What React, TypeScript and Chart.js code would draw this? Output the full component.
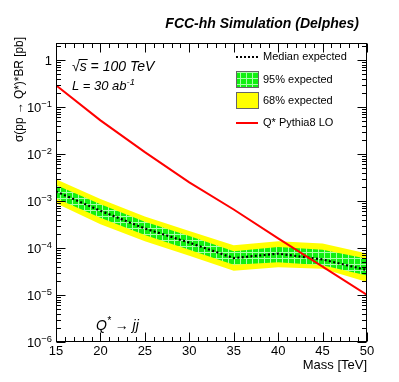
import { useEffect, useRef } from "react";
import { Chart, registerables } from "chart.js";

Chart.register(...registerables);

// Data (Mass in TeV, cross sections in pb)
const masses = [15, 20, 25, 30, 35, 40, 45, 50];
const medianExpected = [1.6e-3, 6.2e-4, 2.6e-4, 1.3e-4, 6.1e-5, 7.6e-5, 5.7e-5, 3.4e-5];
const band95High = [2.2e-3, 8.5e-4, 3.6e-4, 1.8e-4, 8.5e-5, 1.05e-4, 9.2e-5, 5.9e-5];
const band95Low = [1.15e-3, 4.4e-4, 1.9e-4, 9.2e-5, 4.4e-5, 5.0e-5, 4.3e-5, 2.6e-5];
const band68High = [2.9e-3, 1.1e-3, 4.7e-4, 2.3e-4, 1.15e-4, 1.39e-4, 1.24e-4, 7.6e-5];
const band68Low = [9.0e-4, 3.2e-4, 1.4e-4, 6.8e-5, 3.3e-5, 3.9e-5, 3.6e-5, 1.9e-5];
const pythiaLO = [0.29, 0.052, 1.1e-2, 2.5e-3, 6.6e-4, 1.6e-4, 4.0e-5, 1.0e-5];

const xTickLabels = [15, 20, 25, 30, 35, 40, 45, 50];
const yDecades = [0, -1, -2, -3, -4, -5, -6];

const FONT = "'Liberation Sans', Arial, Helvetica, sans-serif";

type Part = { t: string; sup?: boolean };

function drawRich(
  ctx: CanvasRenderingContext2D,
  parts: Part[],
  x: number,
  y: number,
  align: "left" | "right" | "center",
  size: number,
  style = ""
) {
  const supSize = size * 0.72;
  let total = 0;
  const widths = parts.map((p) => {
    ctx.font = `${style} ${p.sup ? supSize : size}px ${FONT}`;
    const w = ctx.measureText(p.t).width;
    total += w;
    return w;
  });
  let cx = align === "left" ? x : align === "right" ? x - total : x - total / 2;
  ctx.textAlign = "left";
  ctx.textBaseline = "alphabetic";
  parts.forEach((p, i) => {
    ctx.font = `${style} ${p.sup ? supSize : size}px ${FONT}`;
    ctx.fillText(p.t, cx, p.sup ? y - size * 0.42 : y);
    cx += widths[i];
  });
  return total;
}

const decorPlugin = {
  id: "decor",
  afterDraw(chart: any) {
    const ctx: CanvasRenderingContext2D = chart.ctx;
    const { left, right, top, bottom } = chart.chartArea;
    const xs = chart.scales.x;
    const ys = chart.scales.y;
    ctx.save();
    ctx.strokeStyle = "#000";
    ctx.fillStyle = "#000";
    ctx.lineWidth = 1;
    // frame
    ctx.strokeRect(Math.round(left) + 0.5, Math.round(top) + 0.5, Math.round(right - left) - 1, Math.round(bottom - top) - 1);

    const L = Math.round(left) + 0.5;
    const R = Math.round(right) - 0.5;
    const T = Math.round(top) + 0.5;
    const B = Math.round(bottom) - 0.5;
    ctx.beginPath();
    // x ticks
    for (let v = 15; v <= 50; v += 1) {
      const px = Math.round(xs.getPixelForValue(v)) + 0.5;
      const len = v % 5 === 0 ? 9 : 4.5;
      ctx.moveTo(px, B);
      ctx.lineTo(px, B - len);
      ctx.moveTo(px, T);
      ctx.lineTo(px, T + len);
    }
    // y ticks
    for (const d of yDecades) {
      for (let m = 1; m <= 9; m++) {
        const val = m * Math.pow(10, d);
        if (val > ys.max || val < ys.min) continue;
        const py = Math.round(ys.getPixelForValue(val)) + 0.5;
        const len = m === 1 ? 9 : 4.5;
        ctx.moveTo(L, py);
        ctx.lineTo(L + len, py);
        ctx.moveTo(R, py);
        ctx.lineTo(R - len, py);
      }
    }
    ctx.stroke();

    // x tick labels
    ctx.font = `13px ${FONT}`;
    ctx.textAlign = "center";
    ctx.textBaseline = "middle";
    for (const v of xTickLabels) {
      ctx.fillText(String(v), xs.getPixelForValue(v), bottom + 9);
    }
    // x title
    ctx.textAlign = "right";
    ctx.fillText("Mass [TeV]", right, bottom + 23);

    // y tick labels
    for (const d of yDecades) {
      const py = ys.getPixelForValue(Math.pow(10, d));
      if (d === 0) {
        drawRich(ctx, [{ t: "1" }], left - 4, py + 5, "right", 13);
      } else {
        drawRich(ctx, [{ t: "10" }, { t: `\u2212${-d}`, sup: true }], left - 4, py + 5, "right", 13);
      }
    }

    // y title (rotated)
    ctx.save();
    const yTitle = "\u03c3(pp \u2192 Q*)*BR [pb]";
    ctx.font = `12.5px ${FONT}`;
    const tw = ctx.measureText(yTitle).width;
    const k = Math.min(1, 105 / tw);
    ctx.translate(20, 37);
    ctx.rotate(-Math.PI / 2);
    ctx.scale(k, 1);
    ctx.textAlign = "right";
    ctx.textBaseline = "middle";
    ctx.fillText(yTitle, 0, 0);
    ctx.restore();

    // header
    ctx.font = `italic bold 14px ${FONT}`;
    ctx.textAlign = "right";
    ctx.textBaseline = "alphabetic";
    ctx.fillText("FCC-hh Simulation (Delphes)", 359, 28);

    // sqrt(s)
    ctx.textAlign = "left";
    ctx.font = `italic 14px ${FONT}`;
    const sx = 72;
    const sy = 71;
    ctx.fillText("\u221a", sx, sy);
    const rw = ctx.measureText("\u221a").width;
    ctx.fillText("s = 100 TeV", sx + rw, sy);
    const sw = ctx.measureText("s").width;
    ctx.beginPath();
    ctx.moveTo(sx + rw - 1, sy - 11.5);
    ctx.lineTo(sx + rw + sw + 1, sy - 11.5);
    ctx.stroke();

    // luminosity
    drawRich(ctx, [{ t: "L = 30 ab" }, { t: "-1", sup: true }], 72, 90, "left", 13, "italic");

    // process label
    drawRich(ctx, [{ t: "Q" }, { t: "*", sup: true }, { t: " \u2192 jj" }], 96, 330, "left", 14, "italic");

    // legend
    const lx0 = 236;
    const lx1 = 258;
    const tx = 263;
    ctx.font = `11px ${FONT}`;
    ctx.textAlign = "left";
    ctx.textBaseline = "middle";
    // median
    ctx.save();
    ctx.strokeStyle = "#000";
    ctx.lineWidth = 2;
    ctx.setLineDash([2, 2]);
    ctx.beginPath();
    ctx.moveTo(lx0, 57);
    ctx.lineTo(lx1, 57);
    ctx.stroke();
    ctx.restore();
    ctx.fillText("Median expected", tx, 57);
    // 95%
    ctx.fillStyle = chart.$greenPattern || "#00ff00";
    ctx.fillRect(lx0, 71, lx1 - lx0, 16);
    ctx.strokeStyle = "#666";
    ctx.strokeRect(lx0 + 0.5, 71.5, lx1 - lx0, 16);
    ctx.fillStyle = "#000";
    ctx.fillText("95% expected", tx, 79.5);
    // 68%
    ctx.fillStyle = "#ffff00";
    ctx.fillRect(lx0, 92, lx1 - lx0, 16);
    ctx.strokeRect(lx0 + 0.5, 92.5, lx1 - lx0, 16);
    ctx.fillStyle = "#000";
    ctx.fillText("68% expected", tx, 100.5);
    // red
    ctx.strokeStyle = "#ff0000";
    ctx.lineWidth = 2;
    ctx.beginPath();
    ctx.moveTo(lx0, 123);
    ctx.lineTo(lx1, 123);
    ctx.stroke();
    ctx.fillText("Q* Pythia8 LO", tx, 123);

    ctx.restore();
  },
};

export default function App() {
  const ref = useRef<HTMLCanvasElement>(null);

  useEffect(() => {
    document.body.style.margin = "0";
    const canvas = ref.current!;
    const pc = document.createElement("canvas");
    pc.width = 6;
    pc.height = 6;
    const p = pc.getContext("2d")!;
    p.fillStyle = "#10f010";
    p.fillRect(0, 0, 6, 6);
    p.fillStyle = "#a8ffa8";
    p.fillRect(0, 0, 6, 1);
    p.fillRect(0, 0, 1, 6);
    const greenPattern = canvas.getContext("2d")!.createPattern(pc, "repeat");

    const pts = (arr: number[]) => masses.map((m, i) => ({ x: m, y: arr[i] }));
    const clear = "rgba(0,0,0,0)";

    const chart: any = new Chart(canvas, {
      type: "line",
      data: {
        datasets: [
          { label: "Q* Pythia8 LO", data: pts(pythiaLO), borderColor: "#ff0000", borderWidth: 2, pointRadius: 0, fill: false, tension: 0 },
          { label: "Median expected", data: pts(medianExpected), borderColor: "#000", borderWidth: 2.2, borderDash: [2, 2.4], pointRadius: 0, fill: false },
          { label: "95% high", data: pts(band95High), borderColor: clear, borderWidth: 1, backgroundColor: greenPattern as any, pointRadius: 0, fill: "+1" },
          { label: "95% low", data: pts(band95Low), borderColor: clear, borderWidth: 1, pointRadius: 0, fill: false },
          { label: "68% high", data: pts(band68High), borderColor: clear, borderWidth: 1, backgroundColor: "#ffff00", pointRadius: 0, fill: "+1" },
          { label: "68% low", data: pts(band68Low), borderColor: clear, borderWidth: 1, pointRadius: 0, fill: false },
        ],
      },
      options: {
        responsive: false,
        animation: false,
        devicePixelRatio: 1,
        layout: { padding: { left: 56, right: 32, top: 43, bottom: 40 } },
        scales: {
          x: { type: "linear", min: 15, max: 50, display: false },
          y: { type: "logarithmic", min: 1e-6, max: 2.3, display: false },
        },
        plugins: {
          legend: { display: false },
          tooltip: { enabled: false },
          filler: { drawTime: "beforeDatasetsDraw" } as any,
        },
      },
      plugins: [decorPlugin],
    });
    chart.$greenPattern = greenPattern;
    chart.draw();

    return () => chart.destroy();
  }, []);

  return (
    <canvas
      ref={ref}
      width={399}
      height={382}
      style={{ display: "block", width: 399, height: 382 }}
    />
  );
}
